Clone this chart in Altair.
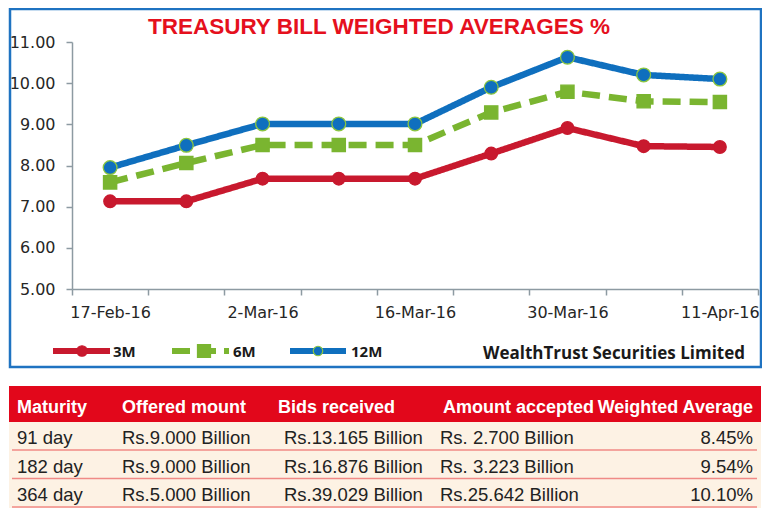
import json
import altair as alt
import pandas as pd

# ---------------- data ----------------
dates = ["17-Feb-16", "24-Feb-16", "2-Mar-16", "9-Mar-16", "16-Mar-16",
         "23-Mar-16", "30-Mar-16", "6-Apr-16", "11-Apr-16"]
series_names = ["3M", "6M", "12M"]
rate_3m = [7.13, 7.13, 7.68, 7.68, 7.68, 8.29, 8.91, 8.47, 8.45]
rate_6m = [7.59, 8.06, 8.50, 8.50, 8.50, 9.29, 9.79, 9.56, 9.54]
rate_12m = [7.95, 8.49, 9.01, 9.01, 9.01, 9.90, 10.63, 10.20, 10.10]
y_ticks = [5, 6, 7, 8, 9, 10, 11]

title_text = "TREASURY BILL WEIGHTED AVERAGES %"
source_text = "WealthTrust Securities Limited"

headers = ["Maturity", "Offered mount", "Bids received", "Amount accepted", "Weighted Average"]
maturity = ["91 day", "182 day", "364 day"]
offered = ["Rs.9.000 Billion", "Rs.9.000 Billion", "Rs.5.000 Billion"]
bids = ["Rs.13.165 Billion", "Rs.16.876 Billion", "Rs.39.029 Billion"]
accepted = ["Rs. 2.700 Billion", "Rs. 3.223 Billion", "Rs.25.642 Billion"]
wavg = ["8.45%", "9.54%", "10.10%"]

# ---------------- styles ----------------
W, H = 686, 247
line_colors = ["#c8192e", "#7ab530", "#0f6fbe"]
marker_strokes = ["#c8192e", "#7ab530", "#8cc63f"]
axis_gray = "#8d9aa2"
label_col = "#262626"
red_head = "#e2071b"
cream = "#fdf2e4"
sep_col = "#f08a86"
border_col = "#1f73c1"
tick_font = "DejaVu Sans"
tbl_font = "Liberation Sans, Arial, sans-serif"
legend_font = "Open Sans, DejaVu Sans, sans-serif"

long = pd.DataFrame({
    "date": dates * 3,
    "value": rate_3m + rate_6m + rate_12m,
    "series": [s for s in series_names for _ in dates],
})

shown = dates[::2]
label_expr = "indexof(" + json.dumps(shown) + ", datum.value) >= 0 ? datum.label : ''"

xscale = alt.Scale(type="band", domain=dates, paddingInner=0, paddingOuter=0)
yscale = alt.Scale(domain=[5, 11], nice=False, zero=False)


def x_axis():
    return alt.Axis(title=None, tickBand="extent", labelExpr=label_expr, labelAngle=0,
                    domainColor=axis_gray, tickColor=axis_gray, tickSize=6, domainWidth=1.5,
                    tickWidth=1.5, labelFont=tick_font, labelFontSize=16, labelColor=label_col,
                    labelPadding=9, grid=False, labelOverlap=False)


def y_axis():
    return alt.Axis(title=None, values=y_ticks, format=".2f", domainColor=axis_gray,
                    tickColor=axis_gray, tickSize=6, domainWidth=1.5, tickWidth=1.5,
                    labelFont=tick_font, labelFontSize=16, labelColor=label_col,
                    labelPadding=11, grid=False)


base = alt.Chart(long)
lines = base.mark_line(strokeWidth=6.5).encode(
    x=alt.X("date:N", scale=xscale, sort=dates, bandPosition=0.5, axis=x_axis()),
    y=alt.Y("value:Q", scale=yscale, axis=y_axis()),
    color=alt.Color("series:N", scale=alt.Scale(domain=series_names, range=line_colors), legend=None),
    strokeDash=alt.StrokeDash("series:N", scale=alt.Scale(domain=series_names,
                              range=[[1, 0], [18, 9], [1, 0]]), legend=None),
)
pts = base.mark_point(filled=True, opacity=1, strokeWidth=1.3).encode(
    x=alt.X("date:N", scale=xscale, sort=dates, bandPosition=0.5, axis=x_axis()),
    y=alt.Y("value:Q", scale=yscale, axis=y_axis()),
    shape=alt.Shape("series:N", scale=alt.Scale(domain=series_names,
                    range=["circle", "square", "circle"]), legend=None),
    size=alt.Size("series:O", scale=alt.Scale(domain=series_names, range=[160, 190, 250]), legend=None),
    fill=alt.Fill("series:N", scale=alt.Scale(domain=series_names, range=line_colors), legend=None),
    stroke=alt.Stroke("series:N", scale=alt.Scale(domain=series_names, range=marker_strokes), legend=None),
)
main = alt.layer(lines, pts)

# ---------------- decorations ----------------
one = pd.DataFrame({"k": [0]})
deco = alt.Chart(one)

border = deco.mark_rect(fill=None, stroke=border_col, strokeWidth=2.5).encode(
    x=alt.value(-62), x2=alt.value(689), y=alt.value(-33), y2=alt.value(325))
title = deco.mark_text(text=title_text, font=tbl_font, fontSize=22.5, fontWeight="bold",
                       color="#e5101d", align="center", baseline="alphabetic").encode(
    x=alt.value(307), y=alt.value(-8))

# legend
leg_y = 309
leg = []
seg = [(-19, 38), (100, 157), (218, 274)]
mark_x = [10, 132, 246]
text_x = [41, 161, 279]
leg_shape = ["circle", "square", "circle"]
leg_size = [110, 170, 90]
dashes = [[1, 0], [18, 8], [1, 0]]
for i, s in enumerate(series_names):
    leg.append(deco.mark_rule(color=line_colors[i], strokeWidth=6, strokeDash=dashes[i]).encode(
        x=alt.value(seg[i][0]), x2=alt.value(seg[i][1]), y=alt.value(leg_y)))
    leg.append(deco.mark_point(filled=True, opacity=1, shape=leg_shape[i], size=leg_size[i],
                               fill=line_colors[i], stroke=marker_strokes[i], strokeWidth=1.2).encode(
        x=alt.value(mark_x[i]), y=alt.value(leg_y)))
    leg.append(deco.mark_text(text=s, font=legend_font, fontSize=15, fontWeight="bold",
                              color="#1a1a1a", align="left", baseline="middle").encode(
        x=alt.value(text_x[i]), y=alt.value(leg_y + 1)))
source = deco.mark_text(text=source_text, font=legend_font, fontSize=17, fontWeight="bold",
                        color="#1a1a1a", align="left", baseline="middle").encode(
    x=alt.value(411), y=alt.value(312))

# ---------------- table ----------------
tbl = pd.DataFrame({"maturity": maturity, "offered": offered, "bids": bids,
                    "accepted": accepted, "wavg": wavg})
head_rect = deco.mark_rect(fill=red_head).encode(
    x=alt.value(-63), x2=alt.value(689), y=alt.value(344), y2=alt.value(380))
cream_rect = deco.mark_rect(fill=cream).encode(
    x=alt.value(-63), x2=alt.value(689), y=alt.value(380), y2=alt.value(466))
head_x = [-55, 50, 206, 371, 681]
head_align = ["left", "left", "left", "left", "right"]
head_layers = [
    deco.mark_text(text=h, font=tbl_font, fontSize=18, fontWeight="bold", color="white",
                   align=head_align[j], baseline="alphabetic").encode(
        x=alt.value(head_x[j]), y=alt.value(371))
    for j, h in enumerate(headers)
]
row_scale = alt.Scale(type="point", domain=maturity, range=[402, 459], padding=0,
                      paddingOuter=0)
tb = alt.Chart(tbl)
seps = tb.mark_rule(color=sep_col, strokeWidth=1.5, yOffset=6).encode(
    y=alt.Y("maturity:N", scale=row_scale, axis=None), x=alt.value(-60), x2=alt.value(685))
cols = ["maturity", "offered", "bids", "accepted", "wavg"]
cell_x = [-55, 50, 212, 368, 681]
cell_layers = [
    tb.mark_text(font=tbl_font, fontSize=18.5, color="#222222", align=head_align[j],
                 baseline="alphabetic").encode(
        y=alt.Y("maturity:N", scale=row_scale, axis=None), x=alt.value(cell_x[j]),
        text=alt.Text(c + ":N"))
    for j, c in enumerate(cols)
]
table = alt.layer(head_rect, cream_rect, seps, *head_layers, *cell_layers)

chart = alt.layer(main, border, title, *leg, source, table).resolve_scale(
    y="independent"
).properties(
    width=W, height=H,
    autosize=alt.AutoSizeParams(type="none"),
    padding={"left": 64, "top": 34, "right": 4, "bottom": 219},
    background="white",
).configure_view(stroke=None)

chart.save("out.html", embed_options={"renderer": "svg", "actions": False})
